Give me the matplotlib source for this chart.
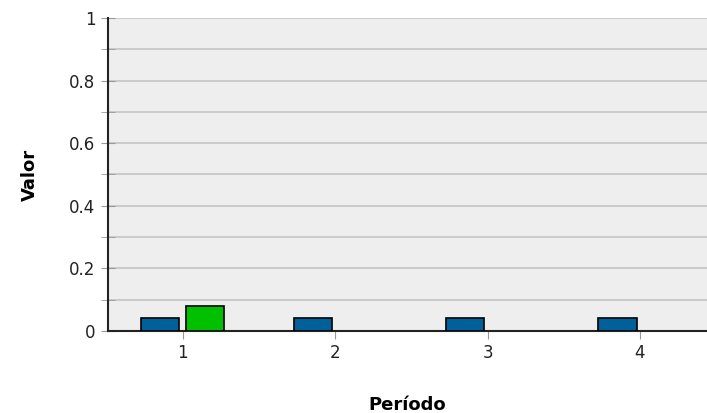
import matplotlib.pyplot as plt
import numpy as np

periodos = [1, 2, 3, 4]
serie_a = [0.04, 0.04, 0.04, 0.04]
serie_b = [0.08, 0, 0, 0]

fig = plt.figure(figsize=(7.07, 4.13), dpi=100)
ax = fig.add_axes([108/707, 1 - 331/413, 1 - 108/707, 313/413])
ax.set_facecolor('#eeeeee')

x = np.array(periodos)
w = 0.25
ax.bar(x - 0.147, serie_a, w, color='#00609a', edgecolor='black', lw=1.2, zorder=3)
b = [v if v > 0 else np.nan for v in serie_b]
ax.bar(x + 0.147, b, w, color='#00c000', edgecolor='black', lw=1.2, zorder=3)

ax.set_xlim(0.51, 4.44)
ax.set_ylim(0, 1)
ax.set_xticks(x)
ax.set_xticklabels([str(p) for p in periodos])
ax.set_yticks([0, 0.2, 0.4, 0.6, 0.8, 1])
ax.set_yticklabels(['0', '0.2', '0.4', '0.6', '0.8', '1'])
ax.set_yticks(np.arange(0.1, 1, 0.2), minor=True)
ax.grid(axis='y', which='both', color='#c4c4c4', lw=1.2, zorder=0)
ax.tick_params(axis='both', which='both', color='#999999', length=6, labelsize=12, labelcolor='#222222')
ax.tick_params(axis='y', which='both', direction='inout', length=10, pad=4)

for s in ['top', 'right']:
    ax.spines[s].set_visible(False)
ax.spines['left'].set_color('#222222')
ax.spines['bottom'].set_color('#222222')
ax.spines['left'].set_linewidth(1.5)
ax.spines['bottom'].set_linewidth(1.5)

ax.set_xlabel('Período', fontsize=13, fontweight='bold', labelpad=24)
ax.set_ylabel('Valor', fontsize=13, fontweight='bold', labelpad=22)

fig.savefig('out.png', dpi=100)
